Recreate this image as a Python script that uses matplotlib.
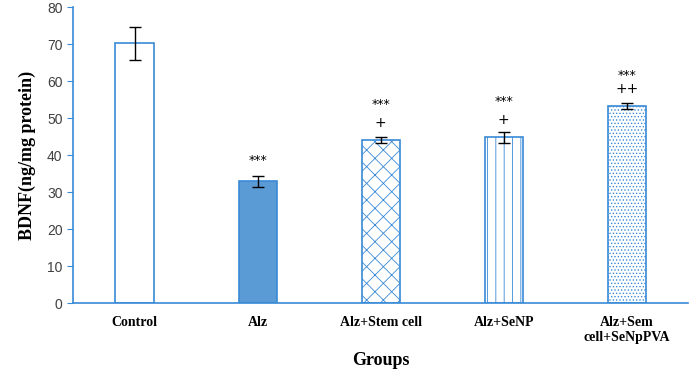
import matplotlib.pyplot as plt
import numpy as np

groups = ["Control", "Alz", "Alz+Stem cell", "Alz+SeNP", "Alz+Sem\ncell+SeNpPVA"]
bdnf = [70.2, 33.0, 44.0, 44.8, 53.3]
sem = [4.4, 1.5, 0.8, 1.5, 0.7]
stars = ["", "***", "***", "***", "***"]
star_y = [0, 38.5, 53.8, 54.6, 61.5]
plus = ["", "", "+", "+", "++"]
plus_y = [0, 0, 48.6, 49.4, 57.8]

blue = "#3a8ad6"
faces = ["white", "#5b9bd5", "white", "white", "white"]
hatches = [None, None, "xx", "||", "....."]

plt.rcParams["hatch.color"] = blue
plt.rcParams["hatch.linewidth"] = 0.6

fig = plt.figure(figsize=(6.89, 3.78), dpi=100)
ax = fig.add_axes([0.106, 0.198, 0.893, 0.783])

x = np.arange(len(groups))
for i in x:
    ax.bar(i, bdnf[i], width=0.31, color=faces[i], edgecolor=blue,
           linewidth=1.2, hatch=hatches[i], zorder=2)
ax.errorbar(x, bdnf, yerr=sem, fmt="none", ecolor="black", elinewidth=1.0,
            capsize=4, capthick=1.0, zorder=3)

for i in x:
    if stars[i]:
        ax.text(i, star_y[i], stars[i], ha="center", va="center", fontsize=9,
                family="DejaVu Sans")
    if plus[i]:
        ax.text(i, plus_y[i], plus[i], ha="center", va="center", fontsize=10,
                family="DejaVu Sans")

ax.set_xlim(-0.5, 4.5)
ax.set_ylim(0, 80)
ax.set_yticks(range(0, 81, 10))
ax.set_xticks(x)
ax.set_xticklabels(groups, family="Liberation Serif", fontweight="bold", fontsize=10)
for lab in ax.get_yticklabels():
    lab.set_family("Liberation Sans")
    lab.set_fontsize(10)
    lab.set_color("#404040")
ax.tick_params(axis="x", length=0, pad=9)
ax.tick_params(axis="y", length=4, color=blue, direction="out")

ax.set_ylabel("BDNF(ng/mg protein)", family="Liberation Serif", fontweight="bold",
              fontsize=13, labelpad=8)
ax.set_xlabel("Groups", family="Liberation Serif", fontweight="bold", fontsize=13,
              labelpad=6)

for side in ["top", "right"]:
    ax.spines[side].set_visible(False)
for side in ["left", "bottom"]:
    ax.spines[side].set_color(blue)
    ax.spines[side].set_linewidth(1.2)

fig.savefig("out.png", dpi=100)
